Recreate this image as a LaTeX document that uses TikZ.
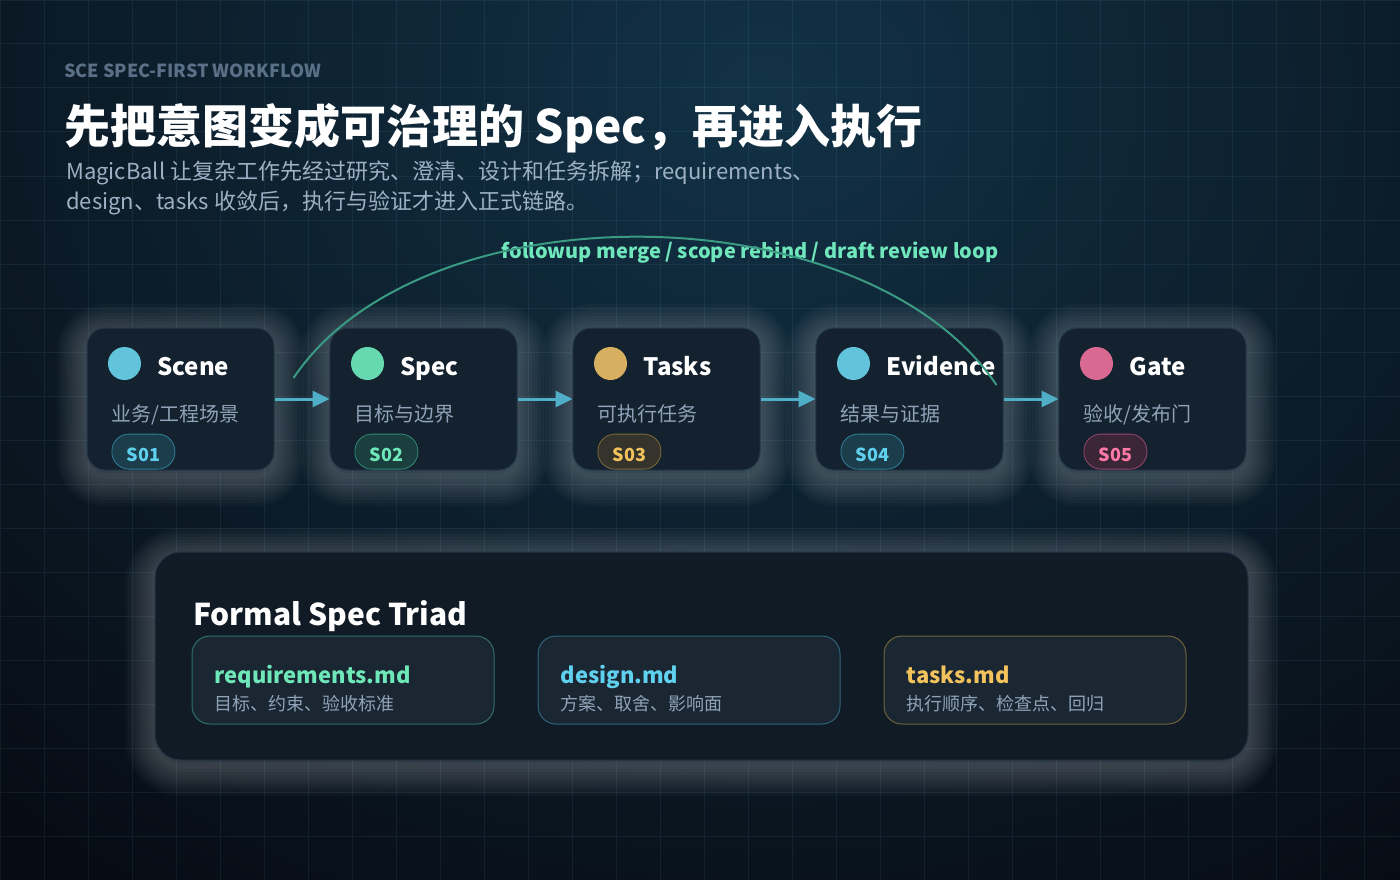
\documentclass[tikz,border=0pt]{standalone}
\usepackage{fontspec}
\setmainfont{Noto Sans CJK SC}
\usepackage{tikz}
\usetikzlibrary{arrows.meta}
\usetikzlibrary{matrix,positioning}

\definecolor{bgdark}{HTML}{070C14}
\definecolor{bgglow}{HTML}{123246}
\definecolor{gridc}{HTML}{6FA8C8}
\definecolor{glowc}{HTML}{C4C8CC}
\definecolor{cardfill}{HTML}{14212E}
\definecolor{cardline}{HTML}{24394B}
\definecolor{kickerc}{HTML}{5A7086}
\definecolor{mutedc}{HTML}{8FA3B8}
\definecolor{subc}{HTML}{9DB0C4}
\definecolor{cyanc}{HTML}{62C4DA}
\definecolor{mintc}{HTML}{66D9B0}
\definecolor{goldc}{HTML}{D6B060}
\definecolor{pinkc}{HTML}{D86A92}
\definecolor{flowc}{HTML}{4FAFC6}
\definecolor{loopc}{HTML}{3A9A82}
\definecolor{looptextc}{HTML}{70E6BC}
\definecolor{bcyan}{HTML}{5FD0EE}
\definecolor{bcyanbg}{HTML}{1C3E4C}
\definecolor{bcyanln}{HTML}{2F7F96}
\definecolor{bmint}{HTML}{6EE8B8}
\definecolor{bmintbg}{HTML}{1A3F3E}
\definecolor{bmintln}{HTML}{2F8A76}
\definecolor{bgold}{HTML}{F2C25C}
\definecolor{bgoldbg}{HTML}{34342C}
\definecolor{bgoldln}{HTML}{7F6A3A}
\definecolor{bpink}{HTML}{FF78A6}
\definecolor{bpinkbg}{HTML}{3A2636}
\definecolor{bpinkln}{HTML}{9A4670}
\definecolor{panelfill}{HTML}{111B26}
\definecolor{panelline}{HTML}{213344}
\definecolor{mdfill}{HTML}{1B2633}
\definecolor{reqln}{HTML}{2E6F66}
\definecolor{designln}{HTML}{2E6478}
\definecolor{tasksln}{HTML}{6F6238}

\begin{document}
\begin{tikzpicture}[x=1pt, y=-1pt,
	halo/.style={preaction={draw=glowc, line width=#1, opacity=0.032, transform canvas={yshift=-6pt}}},
	glow/.style={halo=60pt, halo=54pt, halo=48pt, halo=42pt, halo=36pt, halo=30pt, halo=24pt, halo=18pt, halo=12pt, halo=6pt},
	card/.style={rectangle, rounded corners=18pt, minimum width=187pt, minimum height=142pt, fill=cardfill, draw=cardline, line width=1pt, glow},
	dot/.style={circle, minimum size=33pt, inner sep=0pt},
	ttl/.style={font=\bfseries\fontsize{24}{28}\selectfont, text=white, inner sep=0pt, text height=18pt, text depth=0pt, yshift=-3pt},
	desc/.style={font=\fontsize{20}{22}\selectfont, text=mutedc, inner sep=0pt, anchor=base west},
	badge/.style={rectangle, rounded corners=17pt, minimum width=63pt, minimum height=35pt, line width=0.8pt, inner sep=0pt, text height=19pt, text depth=0pt, anchor=south west, font=\bfseries\fontsize{18}{20}\selectfont},
	flowarrow/.style={draw=flowc, line width=3pt, -{Triangle[length=17pt,width=16pt]}},
	loopline/.style={draw=loopc, line width=2pt},
	panel/.style={rectangle, rounded corners=26pt, minimum width=1093pt, minimum height=208pt, fill=panelfill, draw=panelline, line width=1pt, glow},
	mdcard/.style={rectangle, rounded corners=18pt, minimum width=302pt, minimum height=88pt, fill=mdfill, line width=1pt},
	mdname/.style={font=\bfseries\fontsize{22}{24}\selectfont, inner sep=0pt, anchor=base west},
	mddesc/.style={font=\fontsize{18}{20}\selectfont, text=mutedc, inner sep=0pt, anchor=base west}]
	\useasboundingbox (0,0) rectangle (1400,880);
	\fill[bgdark] (0,0) rectangle (1400,880);
	\shade[inner color=bgglow, outer color=bgdark] (760,90) ellipse (1150 and 950);
	\draw[gridc, opacity=0.10, line width=1pt, step=44pt] (0,0) grid (1400,880);

	\node[font=\bfseries\fontsize{18}{20}\selectfont, text=kickerc, inner sep=0pt, anchor=base west] (kicker) at (64,78) {SCE SPEC-FIRST WORKFLOW};
	\node[font=\bfseries\fontsize{46}{50}\selectfont, text=white, inner sep=0pt, anchor=base west] (headline) at (64,143) {先把意图变成可治理的 Spec，再进入执行};
	\node[font=\fontsize{22}{24}\selectfont, text=subc, inner sep=0pt, anchor=base west] (sub1) at (66,179) {MagicBall 让复杂工作先经过研究、澄清、设计和任务拆解；requirements、};
	\node[font=\fontsize{22}{24}\selectfont, text=subc, inner sep=0pt, anchor=base west] (sub2) at (66,209) {design、tasks 收敛后，执行与验证才进入正式链路。};

	\matrix [column sep=55pt, inner sep=0pt] (flow) at (666.5,399)
	{
		\node[card] (scene) {};    &
		\node[card] (spec) {};     &
		\node[card] (tasks) {};    &
		\node[card] (evidence) {}; &
		\node[card] (gate) {};
		\\
	};

	\node[dot, fill=cyanc] (scenedot) at ([xshift=38pt,yshift=-36pt]scene.north west) {};
	\node[ttl, right=16pt of scenedot] {Scene};
	\node[desc] at ([xshift=25pt,yshift=-94pt]scene.north west) {业务/工程场景};
	\node[badge, fill=bcyanbg, draw=bcyanln, text=bcyan] (s01) at ([xshift=25pt,yshift=1pt]scene.south west) {S01};

	\node[dot, fill=mintc] (specdot) at ([xshift=38pt,yshift=-36pt]spec.north west) {};
	\node[ttl, right=16pt of specdot] {Spec};
	\node[desc] at ([xshift=25pt,yshift=-94pt]spec.north west) {目标与边界};
	\node[badge, fill=bmintbg, draw=bmintln, text=bmint] (s02) at ([xshift=25pt,yshift=1pt]spec.south west) {S02};

	\node[dot, fill=goldc] (tasksdot) at ([xshift=38pt,yshift=-36pt]tasks.north west) {};
	\node[ttl, right=16pt of tasksdot] {Tasks};
	\node[desc] at ([xshift=25pt,yshift=-94pt]tasks.north west) {可执行任务};
	\node[badge, fill=bgoldbg, draw=bgoldln, text=bgold] (s03) at ([xshift=25pt,yshift=1pt]tasks.south west) {S03};

	\node[dot, fill=cyanc] (evidencedot) at ([xshift=38pt,yshift=-36pt]evidence.north west) {};
	\node[ttl, right=16pt of evidencedot] {Evidence};
	\node[desc] at ([xshift=25pt,yshift=-94pt]evidence.north west) {结果与证据};
	\node[badge, fill=bcyanbg, draw=bcyanln, text=bcyan] (s04) at ([xshift=25pt,yshift=1pt]evidence.south west) {S04};

	\node[dot, fill=pinkc] (gatedot) at ([xshift=38pt,yshift=-36pt]gate.north west) {};
	\node[ttl, right=16pt of gatedot] {Gate};
	\node[desc] at ([xshift=25pt,yshift=-94pt]gate.north west) {验收/发布门};
	\node[badge, fill=bpinkbg, draw=bpinkln, text=bpink] (s05) at ([xshift=25pt,yshift=1pt]gate.south west) {S05};

	\draw[flowarrow] (scene) -- (spec);
	\draw[flowarrow] (spec) -- (tasks);
	\draw[flowarrow] (tasks) -- (evidence);
	\draw[flowarrow] (evidence) -- (gate);

	\node[font=\bfseries\fontsize{20}{22}\selectfont, text=looptextc, inner sep=0pt] (looplabel) at (750,253) {followup merge / scope rebind / draft review loop};
	\coordinate (loopa) at ([xshift=19pt,yshift=21pt]scene.east);
	\coordinate (loopb) at ([xshift=-7pt,yshift=14pt]evidence.east);
	\draw[loopline] (loopa) .. controls +(130,-193) and +(-130,-193) .. (loopb);

	\node[panel] (triad) at (701.5,656) {};
	\node[font=\bfseries\fontsize{30}{32}\selectfont, text=white, inner sep=0pt, anchor=base west] (triadtitle) at (193,625) {Formal Spec Triad};

	\node[mdcard, draw=reqln] (reqmd) at (343,680) {};
	\node[mdname, text=bmint] at ([xshift=23pt,yshift=-3pt]reqmd.west) {requirements.md};
	\node[mddesc] at ([xshift=23pt,yshift=-30pt]reqmd.west) {目标、约束、验收标准};

	\node[mdcard, draw=designln] (designmd) at (689,680) {};
	\node[mdname, text=bcyan] at ([xshift=23pt,yshift=-3pt]designmd.west) {design.md};
	\node[mddesc] at ([xshift=23pt,yshift=-30pt]designmd.west) {方案、取舍、影响面};

	\node[mdcard, draw=tasksln] (tasksmd) at (1035,680) {};
	\node[mdname, text=bgold] at ([xshift=23pt,yshift=-3pt]tasksmd.west) {tasks.md};
	\node[mddesc] at ([xshift=23pt,yshift=-30pt]tasksmd.west) {执行顺序、检查点、回归};
\end{tikzpicture}
\end{document}
